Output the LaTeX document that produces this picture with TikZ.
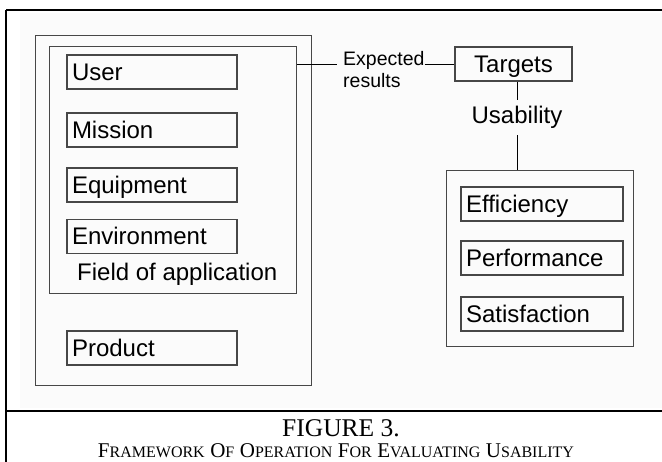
\documentclass[tikz,border=0pt]{standalone}
\usepackage{fontspec}
\setmainfont{Liberation Serif}
\newfontfamily\arial{Liberation Sans}
\newcommand\capword[2]{{\fontsize{21}{24}\selectfont #1}{\fontsize{16}{20}\selectfont #2}}
\newcommand\capgap{\hspace{5.5pt}}
\begin{document}
\begin{tikzpicture}[x=1pt,y=-1pt,
  boxline/.style={draw=black!72, line width=1.1pt},
  item/.style={boxline, minimum height=34pt, inner xsep=5pt, inner ysep=0pt,
    text height=17pt, text depth=0pt, align=left,
    font=\arial\fontsize{24}{28}\selectfont},
  frame/.style={boxline, line width=1pt, inner sep=0pt},
  plain/.style={inner sep=0pt, font=\arial\fontsize{24}{28}\selectfont},
  link/.style={draw=black, line width=0.9pt},
  rule/.style={line width=2.3pt}
]
\useasboundingbox (0,0) rectangle (662,462);
% faint tint of the figure area
\fill[black!1.5] (20,13) rectangle (662,408);

% table rules round the figure and caption
\draw[rule] (6,10) -- (662,10);
\draw[rule] (6,10) -- (6,462);
\draw[rule] (6,411) -- (662,411);

% left-hand group
\node[frame, minimum width=276pt, minimum height=350pt] (ob) at (173,211) {};
\node[frame, minimum width=247pt, minimum height=247pt] (fld) at (172.5,170.5) {};
\node[item, text width=160pt] (user) at (152,72) {User};
\node[item, text width=160pt] (mis) at (152,130) {Mission};
\node[item, text width=160pt] (equ) at (152,185) {Equipment};
\node[item, text width=160pt] (env) at (152,236.5) {Environment};
\node[plain, anchor=base west] (fldlbl) at (77,281) {Field of application};
\node[item, text width=160pt] (prod) at (152,348) {Product};

% targets and usability
\node[item, text width={}, minimum width=117pt, align=center] (tg) at (513.5,64) {Targets};
\node[inner sep=0pt, anchor=base west, align=left,
  font=\arial\fontsize{19.5}{22}\selectfont] (exp) at (343,88) {Expected\\results};
\node[plain, inner ysep=6pt, anchor=base] (us) at (517,124) {Usability};

% right-hand group
\node[frame, minimum width=187pt, minimum height=176pt] (rb) at (539.5,259) {};
\node[item, text width=152pt] (eff) at (542,204) {Efficiency};
\node[item, text width=152pt] (perf) at (542,258) {Performance};
\node[item, text width=152pt] (sat) at (542,314) {Satisfaction};

% connectors
\draw[link] (fld.east |- tg.west) -- ([xshift=-6pt]exp.west |- tg.west);
\draw[link] (exp.east |- tg.west) -- (tg.west);
\draw[link] (us.north |- tg.south) -- (us.north);
\draw[link] (us.south) -- (us.south |- rb.north);

% caption
\node[inner sep=0pt, anchor=base, font=\fontsize{25.5}{28}\selectfont] (fig) at (341,437) {FIGURE 3.};
\node[inner sep=0pt, anchor=base] (cap) at (336,458)
  {\capword{F}{RAMEWORK}\capgap\capword{O}{F}\capgap\capword{O}{PERATION}\capgap\capword{F}{OR}\capgap\capword{E}{VALUATING}\capgap\capword{U}{SABILITY}};
\end{tikzpicture}
\end{document}
